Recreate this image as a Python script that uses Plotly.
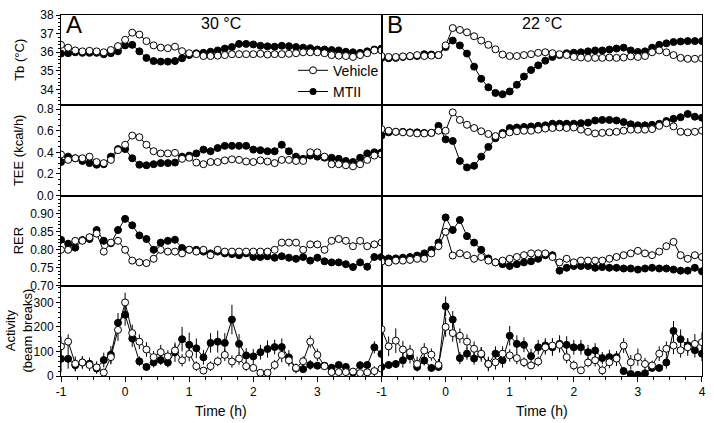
import plotly.graph_objects as go
from plotly.subplots import make_subplots

# ---------------- data ----------------
N = 46
time_h = [round(-1 + i / 9, 4) for i in range(N)]

# Panel A (30 C)
tb_veh_A = [36.4, 36.25, 36.1, 36.05, 36.08, 36.05, 36.0, 36.12, 36.33, 36.67, 37.05, 36.95, 36.6, 36.37,
            36.25, 36.22, 36.3, 36.06, 35.95, 35.9, 35.8, 35.8, 35.82, 35.85, 35.9, 35.9, 35.9, 35.9, 35.92,
            35.88, 35.9, 35.9, 35.92, 35.95, 36.0, 36.0, 36.0, 35.95, 35.85, 35.82, 35.8, 35.75, 35.85, 35.95,
            36.1, 36.1]
tb_mt_A = [35.93, 35.95, 36.0, 35.97, 35.97, 35.97, 35.9, 35.95, 36.05, 36.37, 36.4, 36.05, 35.7, 35.53,
           35.5, 35.5, 35.53, 35.68, 35.85, 35.95, 35.97, 36.03, 36.1, 36.2, 36.28, 36.45, 36.45, 36.42,
           36.35, 36.32, 36.3, 36.35, 36.33, 36.28, 36.25, 36.22, 36.15, 36.15, 36.12, 36.1, 36.03, 36.0,
           35.97, 36.05, 36.15, 36.2]
tee_veh_A = [0.38, 0.33, 0.345, 0.345, 0.36, 0.31, 0.30, 0.33, 0.42, 0.47, 0.555, 0.54, 0.47, 0.41, 0.39,
             0.39, 0.395, 0.34, 0.35, 0.305, 0.29, 0.31, 0.31, 0.325, 0.335, 0.33, 0.315, 0.31, 0.325, 0.315,
             0.30, 0.33, 0.33, 0.32, 0.32, 0.40, 0.40, 0.36, 0.29, 0.29, 0.28, 0.27, 0.29, 0.33, 0.37, 0.38]
tee_mt_A = [0.31, 0.36, 0.345, 0.32, 0.30, 0.285, 0.29, 0.36, 0.43, 0.43, 0.345, 0.285, 0.28, 0.29, 0.30,
            0.30, 0.305, 0.36, 0.37, 0.39, 0.425, 0.41, 0.44, 0.46, 0.46, 0.46, 0.46, 0.425, 0.42, 0.41,
            0.41, 0.47, 0.41, 0.36, 0.34, 0.37, 0.36, 0.35, 0.35, 0.34, 0.32, 0.31, 0.35, 0.39, 0.40, 0.40]
rer_veh_A = [0.80, 0.80, 0.825, 0.825, 0.835, 0.845, 0.795, 0.82, 0.825, 0.80, 0.77, 0.765, 0.763, 0.775,
             0.80, 0.795, 0.795, 0.79, 0.80, 0.795, 0.80, 0.785, 0.80, 0.795, 0.795, 0.795, 0.795, 0.795,
             0.795, 0.795, 0.80, 0.82, 0.82, 0.82, 0.80, 0.815, 0.815, 0.80, 0.825, 0.83, 0.825, 0.81,
             0.825, 0.81, 0.815, 0.82]
rer_mt_A = [0.828, 0.817, 0.806, 0.827, 0.83, 0.855, 0.825, 0.818, 0.855, 0.886, 0.868, 0.84, 0.83, 0.80,
            0.82, 0.825, 0.828, 0.805, 0.80, 0.80, 0.795, 0.79, 0.795, 0.79, 0.788, 0.785, 0.79, 0.78, 0.78,
            0.782, 0.778, 0.782, 0.778, 0.775, 0.78, 0.77, 0.778, 0.768, 0.765, 0.765, 0.76, 0.752, 0.765,
            0.753, 0.78, 0.78]
act_veh_A = [121, 140, 50, 55, 45, 35, 14, 77, 188, 300, 175, 140, 108, 77, 97, 80, 104, 64, 90, 40, 22, 40,
             60, 86, 59, 71, 40, 33, 13, 13, 45, 86, 64, 33, 60, 140, 86, 40, 16, 16, 16, 18, 12, 15, 20, 30]
act_mt_A = [70, 70, 44, 55, 50, 31, 65, 87, 217, 250, 153, 60, 37, 55, 65, 55, 97, 150, 127, 113, 76, 135,
            140, 135, 230, 131, 84, 80, 97, 110, 118, 118, 76, 31, 28, 45, 42, 42, 34, 45, 37, 14, 44, 45,
            117, 90]

# Panel B (22 C)
tb_veh_B = [35.8, 35.75, 35.75, 35.78, 35.8, 35.85, 35.8, 35.82, 35.85, 36.37, 37.3, 37.2, 37.07, 36.86,
            36.63, 36.4, 36.16, 35.88, 35.8, 35.8, 35.85, 35.9, 35.97, 36.0, 35.95, 35.9, 35.85, 35.75,
            35.72, 35.7, 35.7, 35.7, 35.72, 35.7, 35.72, 35.78, 35.75, 35.8, 36.0, 36.1, 36.0, 35.85, 35.7,
            35.65, 35.65, 35.68]
tb_mt_B = [35.7, 35.68, 35.7, 35.75, 35.78, 35.8, 35.9, 35.88, 35.85, 36.28, 36.63, 36.37, 35.93, 35.23,
           34.58, 34.12, 33.82, 33.75, 33.9, 34.26, 34.7, 35.05, 35.3, 35.55, 35.75, 35.85, 35.95, 35.98,
           36.0, 36.05, 36.1, 36.1, 36.15, 36.2, 36.25, 36.1, 36.02, 36.05, 36.25, 36.4, 36.48, 36.55,
           36.58, 36.6, 36.6, 36.6]
tee_veh_B = [0.615, 0.60, 0.59, 0.585, 0.58, 0.575, 0.575, 0.58, 0.60, 0.60, 0.77, 0.70, 0.655, 0.625,
             0.595, 0.57, 0.55, 0.565, 0.585, 0.595, 0.60, 0.60, 0.61, 0.62, 0.625, 0.63, 0.625, 0.63, 0.61,
             0.59, 0.575, 0.58, 0.585, 0.59, 0.60, 0.61, 0.61, 0.61, 0.615, 0.645, 0.67, 0.64, 0.59, 0.585,
             0.59, 0.60]
tee_mt_B = [0.555, 0.585, 0.59, 0.59, 0.585, 0.585, 0.58, 0.58, 0.645, 0.52, 0.505, 0.32, 0.26, 0.275, 0.36,
            0.45, 0.53, 0.58, 0.625, 0.63, 0.635, 0.64, 0.645, 0.65, 0.665, 0.665, 0.665, 0.665, 0.67, 0.675,
            0.695, 0.70, 0.70, 0.695, 0.68, 0.66, 0.65, 0.65, 0.655, 0.665, 0.69, 0.71, 0.725, 0.755, 0.73,
            0.72]
rer_veh_B = [0.767, 0.765, 0.77, 0.77, 0.772, 0.775, 0.775, 0.79, 0.81, 0.85, 0.784, 0.79, 0.785, 0.775,
             0.78, 0.77, 0.765, 0.77, 0.775, 0.78, 0.785, 0.79, 0.79, 0.79, 0.78, 0.765, 0.775, 0.765, 0.77,
             0.77, 0.77, 0.77, 0.775, 0.78, 0.785, 0.79, 0.797, 0.79, 0.785, 0.795, 0.81, 0.822, 0.785,
             0.775, 0.785, 0.78]
rer_mt_B = [0.776, 0.776, 0.776, 0.778, 0.78, 0.784, 0.79, 0.80, 0.82, 0.89, 0.855, 0.883, 0.838, 0.82,
            0.80, 0.776, 0.765, 0.76, 0.755, 0.76, 0.765, 0.768, 0.775, 0.785, 0.785, 0.742, 0.75, 0.755,
            0.755, 0.755, 0.75, 0.752, 0.75, 0.75, 0.748, 0.748, 0.745, 0.748, 0.75, 0.748, 0.748, 0.745,
            0.742, 0.742, 0.75, 0.74]
act_veh_B = [191, 121, 144, 108, 97, 49, 104, 87, 45, 200, 175, 164, 140, 111, 91, 49, 56, 91, 84, 73, 56,
             43, 59, 117, 124, 127, 77, 43, 23, 55, 64, 23, 56, 71, 124, 56, 77, 49, 43, 91, 111, 124, 105,
             117, 131, 138]
act_mt_B = [37, 45, 49, 64, 81, 37, 63, 33, 37, 284, 230, 73, 91, 71, 88, 49, 91, 64, 164, 131, 127, 81,
            117, 124, 117, 131, 127, 117, 117, 97, 104, 73, 77, 77, 20, 8, 5, 11, 33, 33, 55, 184, 150, 125,
            105, 91]

# SEM (error bars)
err_tb = {"veh": 0.12, "mt": 0.15}
err_tee = {"veh": 0.02, "mt": 0.02}
err_rer = {"veh": 0.01, "mt": 0.01}
err_act_veh_A = [40, 30, 30, 25, 25, 25, 15, 30, 45, 40, 35, 30, 30, 25, 30, 25, 25, 25, 30, 20, 15, 20,
                 20, 25, 25, 25, 20, 15, 10, 10, 20, 30, 25, 15, 20, 25, 25, 15, 10, 10, 10, 10, 10, 15, 20,
                 20]
err_act_mt_A = [55, 40, 25, 25, 25, 20, 30, 35, 40, 45, 35, 20, 15, 20, 20, 20, 40, 50, 50, 40, 30, 40, 45,
                40, 60, 40, 30, 30, 30, 35, 30, 35, 30, 20, 15, 20, 15, 15, 15, 15, 15, 10, 15, 15, 25, 20]
err_act_veh_B = [60, 40, 50, 35, 30, 30, 30, 25, 25, 40, 35, 30, 30, 30, 25, 25, 30, 30, 25, 25, 20, 15,
                 20, 30, 30, 30, 25, 20, 15, 20, 25, 20, 25, 30, 30, 30, 35, 25, 20, 30, 30, 35, 30, 35, 40,
                 40]
err_act_mt_B = [15, 15, 15, 30, 30, 15, 20, 15, 15, 40, 35, 25, 25, 25, 30, 30, 30, 30, 40, 35, 30, 30, 30,
                30, 35, 35, 35, 30, 30, 30, 30, 25, 30, 25, 15, 10, 10, 10, 15, 15, 25, 40, 40, 30, 30, 30]

row_labels = ["Tb (°C)", "TEE (kcal/h)", "RER", "Activity<br>(beam breaks)"]
panel_letters = ["A", "B"]
panel_temps = ["30 °C", "22 °C"]
series_names = ["Vehicle", "MTII"]

# ---------------- figure ----------------
FONT = "Arial, Liberation Sans, sans-serif"
fig = make_subplots(rows=4, cols=2, horizontal_spacing=0, vertical_spacing=0)

rows_data = [
    (tb_veh_A, tb_mt_A, tb_veh_B, tb_mt_B, err_tb["veh"], err_tb["mt"], err_tb["veh"], err_tb["mt"]),
    (tee_veh_A, tee_mt_A, tee_veh_B, tee_mt_B, err_tee["veh"], err_tee["mt"], err_tee["veh"], err_tee["mt"]),
    (rer_veh_A, rer_mt_A, rer_veh_B, rer_mt_B, err_rer["veh"], err_rer["mt"], err_rer["veh"], err_rer["mt"]),
    (act_veh_A, act_mt_A, act_veh_B, act_mt_B, err_act_veh_A, err_act_mt_A, err_act_veh_B, err_act_mt_B),
]

def err_dict(e):
    if isinstance(e, list):
        return dict(type="data", array=e, visible=True, color="black", thickness=1, width=0)
    return dict(type="constant", value=e, visible=True, color="black", thickness=1, width=0)

for r, (va, ma, vb, mb, eva, ema, evb, emb) in enumerate(rows_data, start=1):
    for c, (v, m, ev, em) in enumerate([(va, ma, eva, ema), (vb, mb, evb, emb)], start=1):
        show = (r == 1 and c == 1)
        fig.add_trace(go.Scatter(
            x=time_h, y=m, mode="lines+markers", name=series_names[1], showlegend=False,
            line=dict(color="black", width=1),
            marker=dict(symbol="circle", size=7, color="black", line=dict(color="black", width=1)),
            error_y=err_dict(em)), row=r, col=c)
        fig.add_trace(go.Scatter(
            x=time_h, y=v, mode="lines+markers", name=series_names[0], showlegend=show,
            line=dict(color="black", width=1),
            marker=dict(symbol="circle", size=7, color="white", line=dict(color="black", width=1)),
            error_y=err_dict(ev)), row=r, col=c)

# legend entry for MTII (ordered after Vehicle)
fig.add_trace(go.Scatter(x=[None], y=[None], mode="lines+markers", name="MTII", showlegend=True,
                         line=dict(color="black", width=1),
                         marker=dict(symbol="circle", size=7, color="black")), row=1, col=1)

y_ranges = [[33.16, 38], [0, 0.836], [0.70, 0.951], [0, 368]]
y_ticks = [[34, 35, 36, 37, 38], [0, 0.2, 0.4, 0.6, 0.8], [0.70, 0.75, 0.80, 0.85, 0.90], [0, 100, 200, 300]]
y_fmt = ["d", ".1f", ".2f", "d"]
y_minor = [0.2, 0.05, 0.01, 20]

for r in range(1, 5):
    for c in (1, 2):
        bottom = (r == 4)
        xt = [-1, 0, 1, 2, 3] if c == 1 else [-1, 0, 1, 2, 3, 4]
        fig.update_xaxes(
            range=[-1.0005, 4.0005], showline=True, mirror=True, linecolor="black", linewidth=1,
            showgrid=False, zeroline=False,
            tickvals=xt if bottom else [], ticktext=[str(t) for t in xt] if bottom else [],
            ticks="outside" if bottom else "", ticklen=5, tickcolor="black",
            minor=dict(ticks="outside", dtick=0.25, ticklen=3, tickcolor="black") if bottom else dict(ticks=""),
            tickfont=dict(family=FONT, size=12, color="black"),
            row=r, col=c)
        if c == 1:
            fig.update_yaxes(
                range=y_ranges[r - 1], showline=True, mirror=True, linecolor="black", linewidth=1,
                showgrid=False, zeroline=False, tickvals=y_ticks[r - 1], tickformat=y_fmt[r - 1],
                ticks="outside", ticklen=4, tickcolor="black",
                minor=dict(ticks="outside", dtick=y_minor[r - 1], ticklen=2, tickcolor="black"),
                tickfont=dict(family=FONT, size=12, color="black"),
                row=r, col=c)
        else:
            fig.update_yaxes(
                range=y_ranges[r - 1], showline=True, mirror=True, linecolor="black", linewidth=1,
                showgrid=False, zeroline=False, showticklabels=False, ticks="",
                row=r, col=c)

annotations = []
for i, lab in enumerate(row_labels):
    yc = 1 - (i + 0.5) * 0.25
    annotations.append(dict(text=lab, x=-0.066, y=yc, xref="paper", yref="paper", textangle=-90,
                            showarrow=False, xanchor="center", yanchor="middle",
                            font=dict(family=FONT, size=13, color="black")))
for k in range(2):
    x0 = 0.0 if k == 0 else 0.5008
    annotations.append(dict(text=panel_letters[k], x=x0 + 0.004, y=1.018, xref="paper", yref="paper",
                            showarrow=False, xanchor="left", yanchor="top",
                            font=dict(family=FONT, size=24, color="black")))
    annotations.append(dict(text=panel_temps[k], x=x0 + 0.25, y=1.006, xref="paper", yref="paper",
                            showarrow=False, xanchor="center", yanchor="top",
                            font=dict(family=FONT, size=16, color="black")))
    annotations.append(dict(text="Time (h)", x=x0 + 0.25, y=-0.07, xref="paper", yref="paper",
                            showarrow=False, xanchor="center", yanchor="top",
                            font=dict(family=FONT, size=14, color="black")))

fig.update_layout(
    width=714, height=423,
    margin=dict(l=61, r=8, t=8, b=47),
    paper_bgcolor="white", plot_bgcolor="white",
    annotations=annotations,
    showlegend=True,
    legend=dict(x=0.362, y=0.89, xanchor="left", yanchor="top", bgcolor="rgba(0,0,0,0)",
                font=dict(family=FONT, size=14, color="black"), tracegroupgap=0, itemwidth=30),
)

fig.write_html("out.html", config={"displayModeBar": False},
               post_script="document.body.style.margin='0';")
